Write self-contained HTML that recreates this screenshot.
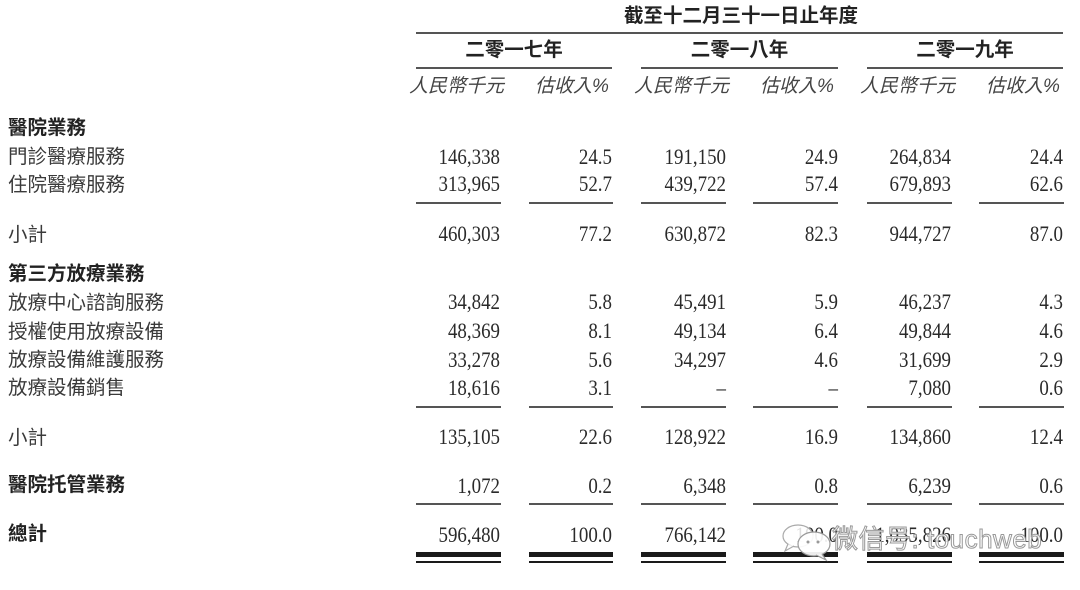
<!DOCTYPE html>
<html>
<head>
<meta charset="utf-8">
<style>
  html,body{margin:0;padding:0;background:#fff;}
  body{width:1080px;height:590px;position:relative;overflow:hidden;}
  .t{position:absolute;white-space:nowrap;height:30px;line-height:30px;}
  .cjk{font-family:"Liberation Sans","Noto Sans CJK TC","Noto Sans CJK SC",sans-serif;font-size:19.5px;color:#3a3a3a;}
  .b{font-weight:bold;color:#222;}
  .num{font-family:"Liberation Serif","Times New Roman",serif;font-size:22px;color:#2a2a2a;text-align:right;width:120px;transform:scaleX(0.86);transform-origin:right center;}
  .u{font-family:"Liberation Sans","Noto Sans CJK TC",sans-serif;font-size:19px;font-style:italic;color:#444;}
  .ln{position:absolute;background:#555;height:2px;}
  .thick{position:absolute;background:#1a1a1a;height:5px;}
  .thin{position:absolute;background:#1a1a1a;height:2px;}
</style>
</head>
<body>

<!-- header -->
<div class="t cjk b" style="left:624px;top:1px;width:234px;text-align:center;font-size:19.5px;">截至十二月三十一日止年度</div>
<div class="ln" style="left:416px;top:32px;width:647px;"></div>

<div class="t cjk b" style="left:416px;top:35px;width:196px;text-align:center;">二零一七年</div>
<div class="t cjk b" style="left:641px;top:35px;width:197px;text-align:center;">二零一八年</div>
<div class="t cjk b" style="left:867px;top:35px;width:196px;text-align:center;">二零一九年</div>

<div class="ln" style="left:416px;top:67px;width:196px;"></div>
<div class="ln" style="left:641px;top:67px;width:197px;"></div>
<div class="ln" style="left:867px;top:67px;width:196px;"></div>

<div class="t u" style="left:409px;top:72px;">人民幣千元</div>
<div class="t u" style="left:535px;top:72px;">估收入%</div>
<div class="t u" style="left:634px;top:72px;">人民幣千元</div>
<div class="t u" style="left:760px;top:72px;">估收入%</div>
<div class="t u" style="left:860px;top:72px;">人民幣千元</div>
<div class="t u" style="left:986px;top:72px;">估收入%</div>

<!-- labels -->
<div class="t cjk b" style="left:8px;top:113px;">醫院業務</div>
<div class="t cjk" style="left:8px;top:142px;">門診醫療服務</div>
<div class="t cjk" style="left:8px;top:170px;">住院醫療服務</div>
<div class="t cjk" style="left:8px;top:220px;">小計</div>
<div class="t cjk b" style="left:8px;top:259px;">第三方放療業務</div>
<div class="t cjk" style="left:8px;top:288px;">放療中心諮詢服務</div>
<div class="t cjk" style="left:8px;top:317px;">授權使用放療設備</div>
<div class="t cjk" style="left:8px;top:345px;">放療設備維護服務</div>
<div class="t cjk" style="left:8px;top:373px;">放療設備銷售</div>
<div class="t cjk" style="left:8px;top:423px;">小計</div>
<div class="t cjk b" style="left:8px;top:470px;">醫院托管業務</div>
<div class="t cjk b" style="left:8px;top:519px;">總計</div>

<!-- numbers: right edges 500,612,726,838,951,1063 -->
<div class="t num" style="left:380px;top:142px;">146,338</div>
<div class="t num" style="left:492px;top:142px;">24.5</div>
<div class="t num" style="left:606px;top:142px;">191,150</div>
<div class="t num" style="left:718px;top:142px;">24.9</div>
<div class="t num" style="left:831px;top:142px;">264,834</div>
<div class="t num" style="left:943px;top:142px;">24.4</div>

<div class="t num" style="left:380px;top:169px;">313,965</div>
<div class="t num" style="left:492px;top:169px;">52.7</div>
<div class="t num" style="left:606px;top:169px;">439,722</div>
<div class="t num" style="left:718px;top:169px;">57.4</div>
<div class="t num" style="left:831px;top:169px;">679,893</div>
<div class="t num" style="left:943px;top:169px;">62.6</div>

<div class="ln" style="left:416px;top:202px;width:85px;"></div>
<div class="ln" style="left:529px;top:202px;width:84px;"></div>
<div class="ln" style="left:641px;top:202px;width:85px;"></div>
<div class="ln" style="left:753px;top:202px;width:85px;"></div>
<div class="ln" style="left:867px;top:202px;width:85px;"></div>
<div class="ln" style="left:979px;top:202px;width:85px;"></div>

<div class="t num" style="left:380px;top:219px;">460,303</div>
<div class="t num" style="left:492px;top:219px;">77.2</div>
<div class="t num" style="left:606px;top:219px;">630,872</div>
<div class="t num" style="left:718px;top:219px;">82.3</div>
<div class="t num" style="left:831px;top:219px;">944,727</div>
<div class="t num" style="left:943px;top:219px;">87.0</div>

<div class="t num" style="left:380px;top:287px;">34,842</div>
<div class="t num" style="left:492px;top:287px;">5.8</div>
<div class="t num" style="left:606px;top:287px;">45,491</div>
<div class="t num" style="left:718px;top:287px;">5.9</div>
<div class="t num" style="left:831px;top:287px;">46,237</div>
<div class="t num" style="left:943px;top:287px;">4.3</div>

<div class="t num" style="left:380px;top:316px;">48,369</div>
<div class="t num" style="left:492px;top:316px;">8.1</div>
<div class="t num" style="left:606px;top:316px;">49,134</div>
<div class="t num" style="left:718px;top:316px;">6.4</div>
<div class="t num" style="left:831px;top:316px;">49,844</div>
<div class="t num" style="left:943px;top:316px;">4.6</div>

<div class="t num" style="left:380px;top:345px;">33,278</div>
<div class="t num" style="left:492px;top:345px;">5.6</div>
<div class="t num" style="left:606px;top:345px;">34,297</div>
<div class="t num" style="left:718px;top:345px;">4.6</div>
<div class="t num" style="left:831px;top:345px;">31,699</div>
<div class="t num" style="left:943px;top:345px;">2.9</div>

<div class="t num" style="left:380px;top:373px;">18,616</div>
<div class="t num" style="left:492px;top:373px;">3.1</div>
<div class="t num" style="left:606px;top:373px;">–</div>
<div class="t num" style="left:718px;top:373px;">–</div>
<div class="t num" style="left:831px;top:373px;">7,080</div>
<div class="t num" style="left:943px;top:373px;">0.6</div>

<div class="ln" style="left:416px;top:406px;width:85px;"></div>
<div class="ln" style="left:529px;top:406px;width:84px;"></div>
<div class="ln" style="left:641px;top:406px;width:85px;"></div>
<div class="ln" style="left:753px;top:406px;width:85px;"></div>
<div class="ln" style="left:867px;top:406px;width:85px;"></div>
<div class="ln" style="left:979px;top:406px;width:85px;"></div>

<div class="t num" style="left:380px;top:422px;">135,105</div>
<div class="t num" style="left:492px;top:422px;">22.6</div>
<div class="t num" style="left:606px;top:422px;">128,922</div>
<div class="t num" style="left:718px;top:422px;">16.9</div>
<div class="t num" style="left:831px;top:422px;">134,860</div>
<div class="t num" style="left:943px;top:422px;">12.4</div>

<div class="t num" style="left:380px;top:471px;">1,072</div>
<div class="t num" style="left:492px;top:471px;">0.2</div>
<div class="t num" style="left:606px;top:471px;">6,348</div>
<div class="t num" style="left:718px;top:471px;">0.8</div>
<div class="t num" style="left:831px;top:471px;">6,239</div>
<div class="t num" style="left:943px;top:471px;">0.6</div>

<div class="ln" style="left:416px;top:503px;width:85px;"></div>
<div class="ln" style="left:529px;top:503px;width:84px;"></div>
<div class="ln" style="left:641px;top:503px;width:85px;"></div>
<div class="ln" style="left:753px;top:503px;width:85px;"></div>
<div class="ln" style="left:867px;top:503px;width:85px;"></div>
<div class="ln" style="left:979px;top:503px;width:85px;"></div>

<div class="t num" style="left:380px;top:520px;">596,480</div>
<div class="t num" style="left:492px;top:520px;">100.0</div>
<div class="t num" style="left:606px;top:520px;">766,142</div>
<div class="t num" style="left:718px;top:520px;">100.0</div>
<div class="t num" style="left:831px;top:520px;">1,035,826</div>
<div class="t num" style="left:943px;top:520px;">100.0</div>

<!-- double underline -->
<div class="thick" style="left:416px;top:552px;width:85px;"></div>
<div class="thick" style="left:529px;top:552px;width:84px;"></div>
<div class="thick" style="left:641px;top:552px;width:85px;"></div>
<div class="thick" style="left:753px;top:552px;width:85px;"></div>
<div class="thick" style="left:867px;top:552px;width:85px;"></div>
<div class="thick" style="left:979px;top:552px;width:85px;"></div>
<div class="thin" style="left:416px;top:561px;width:85px;"></div>
<div class="thin" style="left:529px;top:561px;width:84px;"></div>
<div class="thin" style="left:641px;top:561px;width:85px;"></div>
<div class="thin" style="left:753px;top:561px;width:85px;"></div>
<div class="thin" style="left:867px;top:561px;width:85px;"></div>
<div class="thin" style="left:979px;top:561px;width:85px;"></div>

<!-- watermark -->
<svg style="position:absolute;left:780px;top:522px;" width="56" height="40" viewBox="0 0 56 40">
  <ellipse cx="18" cy="14" rx="15" ry="11" fill="rgba(255,255,255,0.85)" stroke="#aaa" stroke-width="1.2"/>
  <path d="M8 22 L5 29 L14 24" fill="rgba(255,255,255,0.85)" stroke="#aaa" stroke-width="1.2"/>
  <ellipse cx="34" cy="22" rx="16" ry="12" fill="rgba(255,255,255,0.92)" stroke="#999" stroke-width="1.2"/>
  <path d="M42 32 L46 38 L36 33" fill="rgba(255,255,255,0.92)" stroke="#999" stroke-width="1.2"/>
  <circle cx="28" cy="20" r="1.5" fill="#999"/>
  <circle cx="38" cy="20" r="1.5" fill="#999"/>
</svg>
<div class="t" style="left:832px;top:524px;font-family:'Liberation Sans','Noto Sans CJK SC',sans-serif;font-size:26px;color:rgba(255,255,255,0.85);-webkit-text-stroke:1px #999;letter-spacing:0.5px;">微信号: touchweb</div>

</body>
</html>
